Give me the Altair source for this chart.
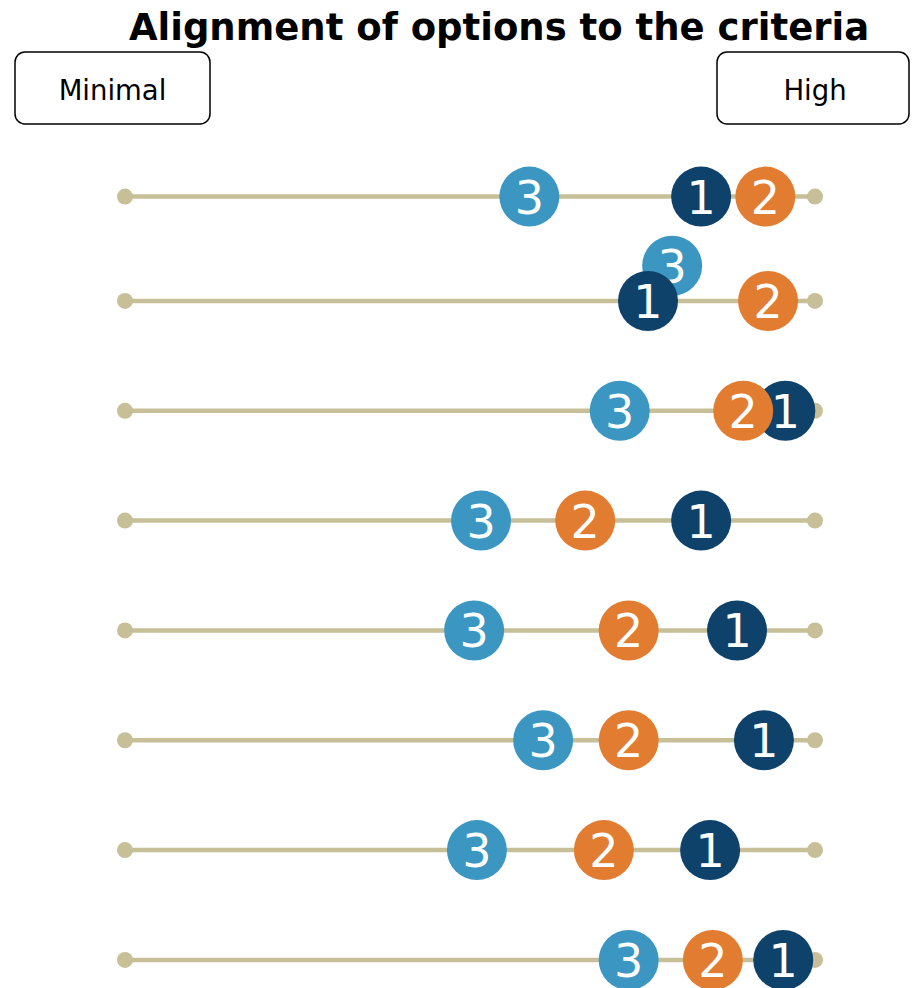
import altair as alt
import pandas as pd

# ---------------- data ----------------
criteria = ["Criterion 1", "Criterion 2", "Criterion 3", "Criterion 4",
            "Criterion 5", "Criterion 6", "Criterion 7", "Criterion 8"]
row_level = [1.05, 2, 3, 4, 5, 6, 7, 8]
scale_min = [0, 0, 0, 0, 0, 0, 0, 0]
scale_max = [100, 100, 100, 100, 100, 100, 100, 100]

option1 = [83.5, 75.8, 95.7, 83.5, 88.7, 92.6, 84.8, 95.4]
option2 = [92.8, 93.2, 89.6, 66.7, 73.0, 73.0, 69.4, 85.2]
option3 = [58.6, 79.3, 71.7, 51.6, 50.6, 60.6, 51.0, 73.0]
option3_lift = [0, 0.32, 0, 0, 0, 0, 0, 0]

title_text = "Alignment of options to the criteria"
low_label = "Minimal"
high_label = "High"

COL = {"1": "#0e426b", "2": "#e27c31", "3": "#3b97c1"}
TAN = "#c6bf98"

rows = pd.DataFrame({"criterion": criteria, "level": row_level,
                     "lo": scale_min, "hi": scale_max})

pts = []
for i, c in enumerate(criteria):
    pts.append({"criterion": c, "option": "3", "score": option3[i],
                "level": row_level[i] - option3_lift[i]})
    pts.append({"criterion": c, "option": "1", "score": option1[i],
                "level": row_level[i]})
    pts.append({"criterion": c, "option": "2", "score": option2[i],
                "level": row_level[i]})
pts = pd.DataFrame(pts)

W, H = 902, 980
xs = alt.Scale(domain=[-16.957, 113.77], nice=False, zero=False)
ys = alt.Scale(domain=[-0.6674, 8.2555], nice=False, zero=False, reverse=True)

lines = alt.Chart(rows).mark_rule(color=TAN, strokeWidth=4.5).encode(
    x=alt.X("lo:Q", scale=xs, axis=None),
    x2="hi:Q",
    y=alt.Y("level:Q", scale=ys, axis=None),
)
dots_lo = alt.Chart(rows).mark_circle(color=TAN, size=256, opacity=1).encode(
    x=alt.X("lo:Q", scale=xs, axis=None),
    y=alt.Y("level:Q", scale=ys, axis=None),
)
dots_hi = alt.Chart(rows).mark_circle(color=TAN, size=256, opacity=1).encode(
    x=alt.X("hi:Q", scale=xs, axis=None),
    y=alt.Y("level:Q", scale=ys, axis=None),
)

layers = [lines, dots_lo, dots_hi]
for opt in ["3", "1", "2"]:
    base = alt.Chart(pts).transform_filter(alt.datum.option == opt)
    circ = base.mark_circle(size=3600, opacity=1, color=COL[opt]).encode(
        x=alt.X("score:Q", scale=xs, axis=None),
        y=alt.Y("level:Q", scale=ys, axis=None),
    )
    txt = base.mark_text(font="DejaVu Sans", fontSize=46, color="white",
                         baseline="middle", align="center", dy=3).encode(
        x=alt.X("score:Q", scale=xs, axis=None),
        y=alt.Y("level:Q", scale=ys, axis=None),
        text="option:N",
    )
    layers += [circ, txt]

box_lo = alt.Chart(alt.Data(values=[{"label": low_label}])).mark_rect(
    fill="white", stroke="black", strokeWidth=1.5, cornerRadius=10).encode(
    x=alt.value(7), x2=alt.value(202), y=alt.value(44), y2=alt.value(116))
box_hi = alt.Chart(alt.Data(values=[{"label": high_label}])).mark_rect(
    fill="white", stroke="black", strokeWidth=1.5, cornerRadius=10).encode(
    x=alt.value(709), x2=alt.value(901), y=alt.value(44), y2=alt.value(116))
lbl_lo = alt.Chart(alt.Data(values=[{"label": low_label}])).mark_text(
    font="DejaVu Sans", fontSize=27.5, color="black", align="center",
    baseline="alphabetic").encode(
    x=alt.value(104.5), y=alt.value(92), text="label:N")
lbl_hi = alt.Chart(alt.Data(values=[{"label": high_label}])).mark_text(
    font="DejaVu Sans", fontSize=27.5, color="black", align="center",
    baseline="alphabetic").encode(
    x=alt.value(807), y=alt.value(92), text="label:N")
title = alt.Chart(alt.Data(values=[{"t": title_text}])).mark_text(
    font="DejaVu Sans", fontSize=37, fontWeight="bold", color="black",
    align="center", baseline="alphabetic").encode(
    x=alt.value(491), y=alt.value(32), text="t:N")

layers += [box_lo, box_hi, lbl_lo, lbl_hi, title]

chart = alt.layer(*layers).properties(
    width=W, height=H,
    autosize=alt.AutoSizeParams(type="none"),
    padding=0,
).configure_view(stroke=None)

chart.save("out.html", embed_options={"renderer": "svg", "actions": False})
